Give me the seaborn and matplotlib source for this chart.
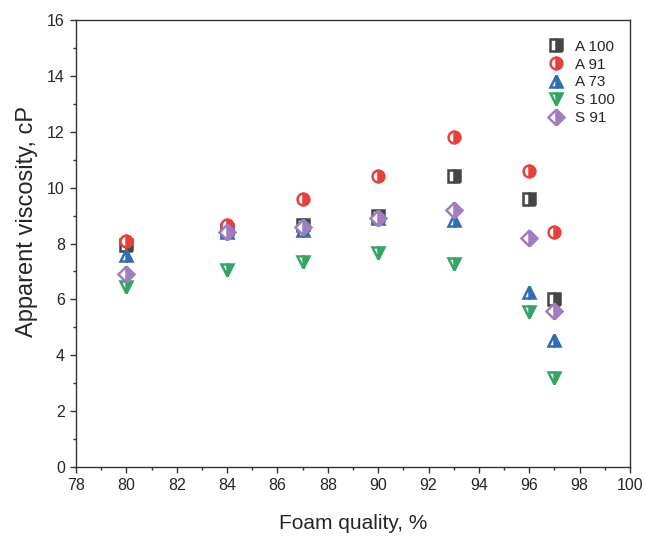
import matplotlib
matplotlib.use("Agg")
import matplotlib.pyplot as plt
import pandas as pd
import seaborn as sns
from matplotlib.ticker import MultipleLocator

sns.set_style("ticks")
plt.rcParams["font.family"] = ["Liberation Sans", "DejaVu Sans"]

foam_quality = [80, 84, 87, 90, 93, 96, 97]
a100 = [7.95, 8.5, 8.65, 9.0, 10.4, 9.6, 6.0]
a91 = [8.1, 8.65, 9.6, 10.4, 11.8, 10.6, 8.4]
a73 = [7.6, 8.4, 8.5, 8.9, 8.85, 6.25, 4.55]
s100 = [6.45, 7.05, 7.35, 7.65, 7.25, 5.55, 3.2]
s91 = [6.9, 8.4, 8.6, 8.9, 9.2, 8.2, 5.6]

series = {"A 100": a100, "A 91": a91, "A 73": a73, "S 100": s100, "S 91": s91}
styles = {
    "A 100": ("s", "#454545"),
    "A 91": ("o", "#e8403c"),
    "A 73": ("^", "#2f6db5"),
    "S 100": ("v", "#33a565"),
    "S 91": ("D", "#a07cc0"),
}

df = pd.DataFrame(
    [(name, x, y) for name, vals in series.items() for x, y in zip(foam_quality, vals)],
    columns=["sample", "quality", "viscosity"],
)

fig = plt.figure(figsize=(6.46, 5.36), dpi=100)
ax = fig.add_axes([0.1176, 0.1287, 0.8576, 0.834])

for name in series:
    m, c = styles[name]
    d = df[df["sample"] == name]
    sns.lineplot(
        ax=ax, data=d, x="quality", y="viscosity", label=name,
        marker=m, markersize=8.5 if m != "D" else 8, fillstyle="right",
        markerfacecolor=c, markeredgecolor=c, markerfacecoloralt="white",
        markeredgewidth=1.8, linestyle="", color=c,
    )

ax.set_xlim(78, 100)
ax.set_ylim(0, 16)
ax.xaxis.set_major_locator(MultipleLocator(2))
ax.xaxis.set_minor_locator(MultipleLocator(1))
ax.yaxis.set_major_locator(MultipleLocator(2))
ax.yaxis.set_minor_locator(MultipleLocator(1))
ax.tick_params(which="major", direction="out", length=4.5, width=1, labelsize=11.5, color="#333333")
ax.tick_params(which="minor", direction="out", length=2.5, width=1, color="#333333")
for s in ax.spines.values():
    s.set_color("#333333")
    s.set_linewidth(1)

ax.set_xlabel("Foam quality, %", fontsize=15, labelpad=15)
ax.set_ylabel("Apparent viscosity, cP", fontsize=17)
ax.yaxis.set_label_coords(-0.068, 0.55)

ax.legend(
    loc="upper right", frameon=False, fontsize=11, handletextpad=0.2,
    labelspacing=0.25, borderaxespad=0.6, bbox_to_anchor=(1.0, 0.99),
)

plt.savefig("out.png", dpi=100)
